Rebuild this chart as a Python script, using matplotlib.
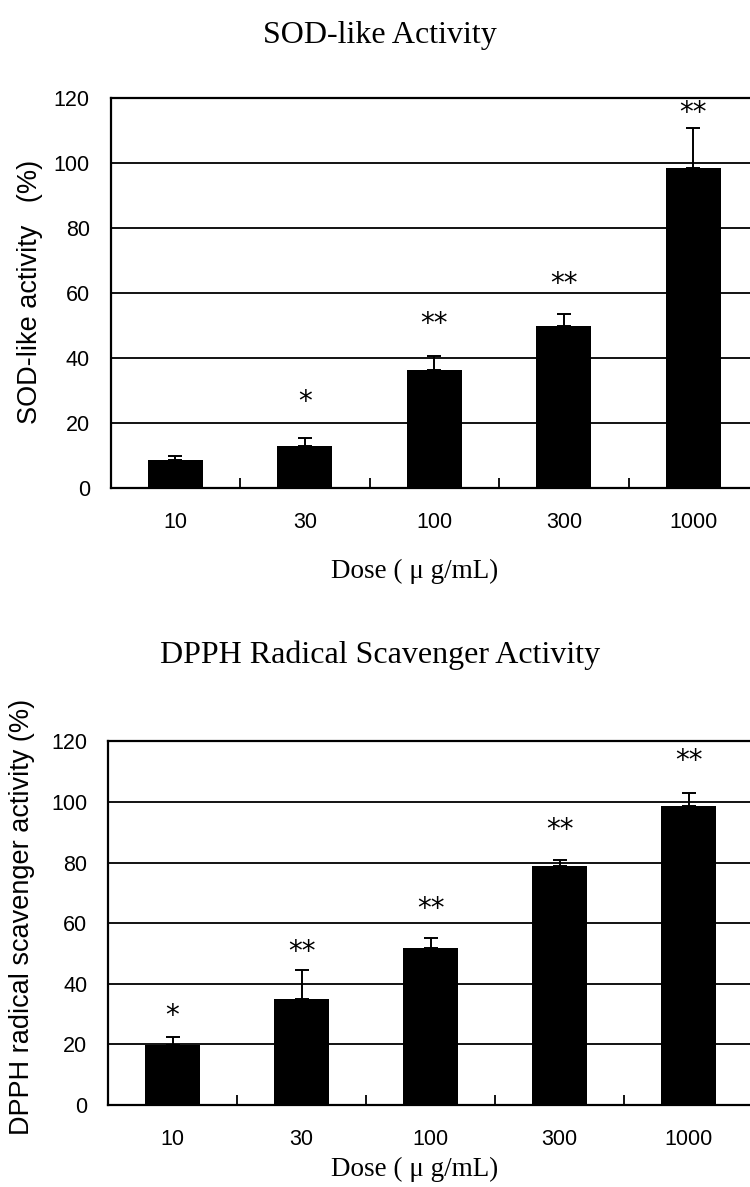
import matplotlib
matplotlib.use("Agg")
import matplotlib.pyplot as plt
import numpy as np

# ---- data ----
doses = ["10", "30", "100", "300", "1000"]

sod_mean = [8.8, 13.1, 36.4, 49.9, 98.4]
sod_err = [1.2, 2.4, 4.3, 3.6, 12.3]
sod_sig = ["", "*", "**", "**", "**"]
sod_sig_y = [0, 27.8, 51.6, 63.9, 116.5]

dpph_mean = [19.8, 35.1, 51.8, 79.0, 98.5]
dpph_err = [2.6, 9.3, 3.2, 1.9, 4.6]
dpph_sig = ["*", "**", "**", "**", "**"]
dpph_sig_y = [30.7, 51.8, 65.8, 91.8, 114.6]

yticks = [0, 20, 40, 60, 80, 100, 120]

W, H = 750, 1187
fig = plt.figure(figsize=(W / 100, H / 100), dpi=100)

SANS = ["Liberation Sans", "DejaVu Sans"]
SERIF = ["Liberation Serif", "DejaVu Serif"]
STAR_FS = 20


def panel(rect, means, errs, sigs, sig_y):
    ax = fig.add_axes(rect)
    x = np.arange(len(doses))
    for yv in yticks[1:]:
        ax.axhline(yv, color="black", lw=1.3, zorder=1)
    ax.bar(x, means, width=0.425, color="black", zorder=3)
    ax.errorbar(x, means, yerr=[np.zeros(len(errs)), errs], fmt="none",
                ecolor="black", elinewidth=1.4, capsize=5, capthick=1.4, zorder=2)
    for xi, s, sy in zip(x, sigs, sig_y):
        if s:
            ax.annotate(s, xy=(xi, sy), xytext=(0, -0.42 * STAR_FS),
                        textcoords="offset points", ha="center", va="baseline",
                        fontsize=STAR_FS, family=["DejaVu Sans"], zorder=4)
    ax.set_xlim(-0.5, len(doses) - 0.5)
    ax.set_ylim(0, 120)
    ax.set_yticks(yticks)
    ax.set_yticklabels([str(v) for v in yticks], family=SANS, fontsize=15.5)
    ax.set_xticks(x)
    ax.set_xticklabels(doses, family=SANS, fontsize=15.5)
    ax.set_xticks(np.arange(0.5, len(doses) - 0.5, 1.0), minor=True)
    ax.tick_params(axis="x", which="major", length=0, pad=17)
    ax.tick_params(axis="x", which="minor", direction="in", length=7, width=1.3)
    ax.tick_params(axis="y", length=0, pad=15)
    for sp in ax.spines.values():
        sp.set_linewidth(1.6)
        sp.set_color("black")
    return ax


# top panel
panel([110.7 / W, 1 - 488.3 / H, 647.5 / W, (488.3 - 98) / H],
      sod_mean, sod_err, sod_sig, sod_sig_y)
fig.text(380 / W, 1 - 35 / H, "SOD-like Activity", ha="center", va="center",
         family=SERIF, fontsize=23)
fig.text(415 / W, 1 - 571 / H, "Dose ( \u03bc g/mL)", ha="center", va="center",
         family=SERIF, fontsize=19.5)
fig.text(30 / W, 1 - 292 / H, "SOD-like activity   (%)", ha="center", va="center",
         rotation=90, family=SANS, fontsize=19.5)

# bottom panel
panel([108 / W, 1 - 1105 / H, 645 / W, (1105 - 741.3) / H],
      dpph_mean, dpph_err, dpph_sig, dpph_sig_y)
fig.text(380 / W, 1 - 655 / H, "DPPH Radical Scavenger Activity", ha="center",
         va="center", family=SERIF, fontsize=23)
fig.text(415 / W, 1 - 1169 / H, "Dose ( \u03bc g/mL)", ha="center", va="center",
         family=SERIF, fontsize=19.5)
fig.text(22 / W, 1 - 917 / H, "DPPH radical scavenger activity (%)", ha="center",
         va="center", rotation=90, family=SANS, fontsize=19.5)

fig.savefig("out.png", dpi=100)
